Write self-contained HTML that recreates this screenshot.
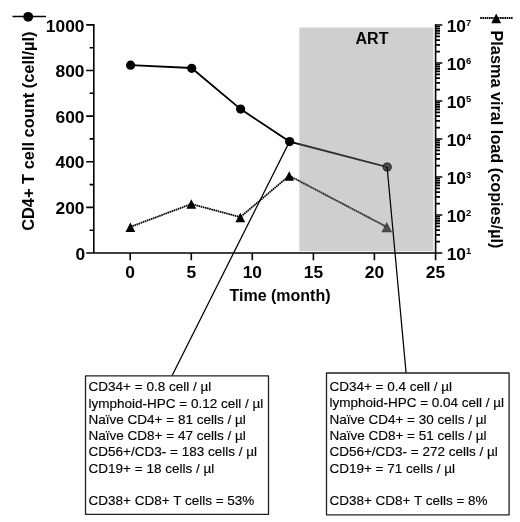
<!DOCTYPE html>
<html><head><meta charset="utf-8">
<style>
html,body{margin:0;padding:0;background:#fff;}
body{width:520px;height:522px;overflow:hidden;}
svg{display:block;will-change:transform;}
text{font-family:"Liberation Sans",sans-serif;fill:#000;}
.b{font-weight:bold;font-size:16px;}
.k{font-weight:bold;font-size:17.4px;}
.t{font-size:13.5px;stroke:#000;stroke-width:0.15px;}
</style></head><body>
<svg width="520" height="522" viewBox="0 0 520 522">
<rect width="520" height="522" fill="#fff"/>

<!-- CD4 line -->
<polyline points="130.6,65.2 191.5,68 240.6,109.1 289.6,141.6 387.1,167" fill="none" stroke="#000" stroke-width="1.8"/>
<g fill="#000">
<circle cx="130.6" cy="65.2" r="4.6"/><circle cx="191.7" cy="68.3" r="4.6"/><circle cx="240.6" cy="109.1" r="4.6"/><circle cx="289.6" cy="141.6" r="4.6"/><circle cx="387.2" cy="167.1" r="4.6"/>
</g>
<!-- viral load -->
<polyline points="130.4,226.9 191.3,204 240.3,217.1 289.2,175.7 386.8,227" fill="none" stroke="#000" stroke-width="1.8" stroke-dasharray="1.6 0.6"/>
<g fill="#000">
<path d="M130.4,222.5 l4.9,9.6 h-9.8z"/>
<path d="M191.3,199.2 l4.9,9.6 h-9.8z"/>
<path d="M240.3,212.7 l4.9,9.6 h-9.8z"/>
<path d="M289.2,171.2 l4.9,9.6 h-9.8z"/>
<path d="M386.8,222.5 l4.9,9.6 h-9.8z"/>
</g>

<!-- ART overlay -->
<rect x="299.3" y="27.5" width="134.1" height="223.8" fill="rgb(157,157,157)" fill-opacity="0.49"/>
<clipPath id="gc"><rect x="299.3" y="27.5" width="134.1" height="223.8"/></clipPath>
<g clip-path="url(#gc)" fill="none" stroke="#000" stroke-opacity="0.4">
<path d="M289.6,141.6L387.1,167" stroke-width="1.8"/>
<circle cx="387.2" cy="167.1" r="4.0" stroke-width="1.2"/>
<path d="M289.2,175.7L386.8,227" stroke-width="1.8" stroke-dasharray="1.6 0.6"/>
<path d="M386.8,222.5 l4.9,9.6 h-9.8z" stroke-width="0.8"/>
</g>
<text class="b" x="372" y="43.8" text-anchor="middle">ART</text>

<!-- axes -->
<g stroke="#000" stroke-width="1.6" fill="none">
<path d="M93.8,24.1V253"/>
<path d="M86.2,253H436.4"/>
<path d="M435.6,24.2V260.3"/>
<!-- left major -->
<path d="M86.2,207.4H93.8M86.2,161.8H93.8M86.2,116.1H93.8M86.2,70.5H93.8M86.2,24.9H93.8"/>
<!-- left minor -->
<path d="M89.6,230.2H93.8M89.6,184.6H93.8M89.6,138.9H93.8M89.6,93.3H93.8M89.6,47.7H93.8"/>
<!-- bottom ticks -->
<path d="M130.2,253V260.3M191.3,253V260.3M252.3,253V260.3M313.4,253V260.3M374.4,253V260.3"/>
</g>
<g id="rt" stroke="#000" fill="none"><path stroke-width="1.6" d="M435.6,253.0H442.3M435.6,215.0H442.3M435.6,177.0H442.3M435.6,139.0H442.3M435.6,101.0H442.3M435.6,63.0H442.3M435.6,25.0H442.3"/><path stroke-width="1.6" d="M435.6,241.6H440M435.6,234.9H440M435.6,230.1H440M435.6,226.4H440M435.6,223.4H440M435.6,220.9H440M435.6,218.7H440M435.6,216.7H440M435.6,203.6H440M435.6,196.9H440M435.6,192.1H440M435.6,188.4H440M435.6,185.4H440M435.6,182.9H440M435.6,180.7H440M435.6,178.7H440M435.6,165.6H440M435.6,158.9H440M435.6,154.1H440M435.6,150.4H440M435.6,147.4H440M435.6,144.9H440M435.6,142.7H440M435.6,140.7H440M435.6,127.6H440M435.6,120.9H440M435.6,116.1H440M435.6,112.4H440M435.6,109.4H440M435.6,106.9H440M435.6,104.7H440M435.6,102.7H440M435.6,89.6H440M435.6,82.9H440M435.6,78.1H440M435.6,74.4H440M435.6,71.4H440M435.6,68.9H440M435.6,66.7H440M435.6,64.7H440M435.6,51.6H440M435.6,44.9H440M435.6,40.1H440M435.6,36.4H440M435.6,33.4H440M435.6,30.9H440M435.6,28.7H440M435.6,26.7H440"/></g>

<!-- left labels -->
<g class="k" text-anchor="end">
<text x="84.5" y="31.5">1000</text>
<text x="84.5" y="77.1">800</text>
<text x="84.5" y="122.7">600</text>
<text x="84.5" y="168.4">400</text>
<text x="84.5" y="214.0">200</text>
<text x="85.2" y="259.8">0</text>
</g>
<g class="k" text-anchor="middle">
<text x="130.2" y="278.2">0</text>
<text x="191.3" y="278.2">5</text>
<text x="252.3" y="278.2">10</text>
<text x="313.4" y="278.2">15</text>
<text x="374.4" y="278.2">20</text>
<text x="435.5" y="278.2">25</text>
<text class="b" x="280" y="301">Time (month)</text>
</g>
<g class="k">
<text x="446.7" y="31.9">10<tspan font-size="9.4" dy="-5.5">7</tspan></text>
<text x="446.7" y="69.9">10<tspan font-size="9.4" dy="-5.5">6</tspan></text>
<text x="446.7" y="107.9">10<tspan font-size="9.4" dy="-5.5">5</tspan></text>
<text x="446.7" y="145.9">10<tspan font-size="9.4" dy="-5.5">4</tspan></text>
<text x="446.7" y="183.9">10<tspan font-size="9.4" dy="-5.5">3</tspan></text>
<text x="446.7" y="221.9">10<tspan font-size="9.4" dy="-5.5">2</tspan></text>
<text x="446.7" y="259.9">10<tspan font-size="9.4" dy="-5.5">1</tspan></text>
</g>
<text class="b" style="font-size:16.4px" transform="translate(33.6,230.8) rotate(-90)">CD4+ T cell count (cell/&#181;l)</text>
<text class="b" style="font-size:16.26px" transform="translate(491.4,30.5) rotate(90)">Plasma viral load (copies/&#181;l)</text>

<!-- legends -->
<path d="M12.5,16.5H46" stroke="#000" stroke-width="1.6"/>
<circle cx="28.2" cy="16.8" r="4.9"/>
<path d="M480.2,18H512.9" stroke="#000" stroke-width="1.8" stroke-dasharray="1.6 0.6"/>
<path d="M496.2,13.6 l4.9,9.6 h-9.8z"/>

<!-- callouts -->
<path d="M289.5,141.6L172,375.8M387.1,167L406.1,373" stroke="#000" stroke-width="1.25" fill="none"/>
<rect x="85.5" y="375.8" width="183" height="138.6" fill="#fff" stroke="#222" stroke-width="1.3" stroke-linejoin="round"/>
<rect x="326.5" y="373" width="182.6" height="141.8" fill="#fff" stroke="#222" stroke-width="1.3" stroke-linejoin="round"/>
<g class="t">
<text x="88.6" y="391.3">CD34+ = 0.8 cell / &#181;l</text>
<text x="88.6" y="407.6">lymphoid-HPC = 0.12 cell / &#181;l</text>
<text x="88.6" y="423.8">Na&#239;ve CD4+ = 81 cells / &#181;l</text>
<text x="88.6" y="440.1">Na&#239;ve CD8+ = 47 cells / &#181;l</text>
<text x="88.6" y="456.4">CD56+/CD3- = 183 cells / &#181;l</text>
<text x="88.6" y="472.7">CD19+ = 18 cells / &#181;l</text>
<text x="88.6" y="505.2">CD38+ CD8+ T cells = 53%</text>
<text x="329.4" y="390.9">CD34+ = 0.4 cell / &#181;l</text>
<text x="329.4" y="407.2">lymphoid-HPC = 0.04 cell / &#181;l</text>
<text x="329.4" y="423.6">Na&#239;ve CD4+ = 30 cells / &#181;l</text>
<text x="329.4" y="439.9">Na&#239;ve CD8+ = 51 cells / &#181;l</text>
<text x="329.4" y="456.2">CD56+/CD3- = 272 cells / &#181;l</text>
<text x="329.4" y="472.5">CD19+ = 71 cells / &#181;l</text>
<text x="329.4" y="505.2">CD38+ CD8+ T cells = 8%</text>
</g>
</svg>
</body></html>
